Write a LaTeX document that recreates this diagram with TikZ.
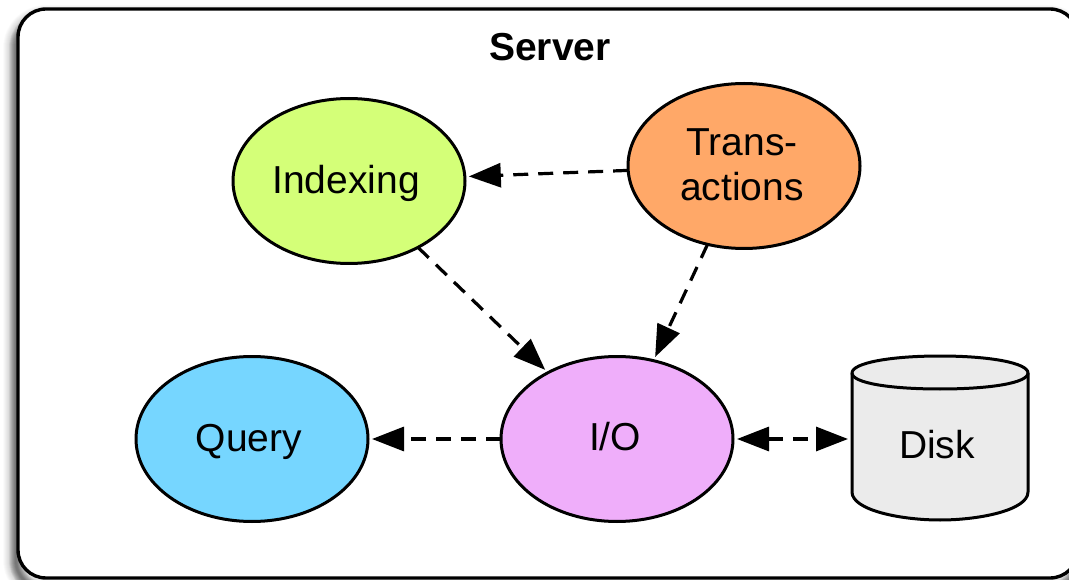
\documentclass[tikz,border=0pt]{standalone}
\usepackage{fontspec}
\setmainfont{Liberation Sans}
\usetikzlibrary{arrows.meta,shapes.geometric}
\definecolor{idx}{HTML}{D4FF78}
\definecolor{trn}{HTML}{FFA868}
\definecolor{qry}{HTML}{76D6FF}
\definecolor{iox}{HTML}{EFAEFA}
\definecolor{dsk}{HTML}{EBEBEB}
\tikzset{
 blob/.style={ellipse,draw=black,line width=3pt,minimum width=232pt,minimum height=165pt,inner sep=0pt,outer sep=0pt},
 lab/.style={font=\fontsize{39}{44.5}\selectfont,align=center,inner sep=0pt},
 link/.style={line width=3.2pt,dash pattern=on 15pt off 10pt,shorten >=4pt,shorten <=0pt},
 tipb/.style={-{Triangle[length=32pt,width=24pt]}},
 tipd/.style={{Triangle[length=32pt,width=24pt]}-{Triangle[length=32pt,width=24pt]}},
 shade line/.style={draw=black,line width=#1,rounded corners=30pt},
}
\begin{document}
\begin{tikzpicture}[x=1pt,y=-1pt]
\useasboundingbox (0,0) rectangle (1069,580);
\clip (0,0) rectangle (1069,580);
\foreach \w in {2,3,...,26}{
 \draw[shade line=\w pt,draw opacity=0.012] (16,18) rectangle (1078,590);
}
\foreach \w in {2,3,...,14}{
 \draw[shade line=\w pt,draw opacity=0.035] (16,18) rectangle (1078,590);
}
\draw[fill=white,line width=3.4pt,rounded corners=28pt] (18,9) rectangle (1078,578);
\node[font=\bfseries\fontsize{39}{44}\selectfont] (title) at (550,47) {Server};
\node[blob,fill=idx] (indexing) at (349,181) {};
\node[blob,fill=trn] (trans) at (744,166) {};
\node[blob,fill=qry] (query) at (252,439) {};
\node[blob,fill=iox] (io) at (617,439) {};
\node[lab] (indexinglab) at (346,183) {Indexing};
\node[lab] (translab) at (742,165) {Trans-\\actions};
\node[lab] (querylab) at (249,442) {Query};
\node[lab] (iolab) at (615,437) {I/O};
% disk
\draw[fill=dsk,line width=3pt] (852,373) -- (852,492)
  .. controls (852,510) and (900,520) .. (940,520)
  .. controls (980,520) and (1028,510) .. (1028,492) -- (1028,373)
  .. controls (1028,363) and (990,356) .. (940,356)
  .. controls (890,356) and (852,363) .. (852,373) -- cycle;
\draw[line width=3pt] (852,373) .. controls (852,383) and (890,389) .. (940,389)
  .. controls (990,389) and (1028,383) .. (1028,373);
\node[lab] (disk) at (937,445) {Disk};
\coordinate (diskleft) at (852,439);
\draw[link,tipb] (trans) -- (indexing);
\draw[link,tipb] (indexing) -- (io);
\draw[link,tipb] (trans) -- (io);
\draw[link,tipb] (io) -- (query);
\draw[link,tipd,shorten <=4pt] (io) -- (diskleft);
\end{tikzpicture}
\end{document}
